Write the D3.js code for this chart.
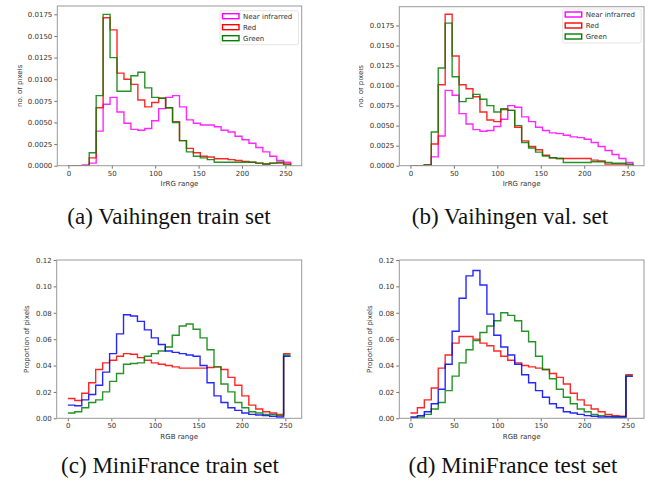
<!DOCTYPE html>
<html>
<head>
<meta charset="utf-8">
<script src="https://cdn.jsdelivr.net/npm/d3@7"></script>
<style>
  body { margin: 0; background: #fff; }
  svg { display: block; }
  .tick text { font-family: 'DejaVu Sans', sans-serif; font-size: 7px; fill: #333; }
  .lbl { font-family: 'DejaVu Sans', sans-serif; font-size: 7px; fill: #333; }
  .cap { font-family: 'Liberation Serif', 'Times New Roman', serif; font-size: 23px; fill: #111; }
</style>
</head>
<body>
<svg id="fig" width="652" height="483"></svg>
<script>
// bin edges, width 8, 0..256
var edges = d3.range(0, 257, 8);

// (a) Vaihingen train set
var nirA = [0, 0, 0.0001, 0.0003, 0.0040, 0.0071, 0.0079, 0.0062, 0.0049, 0.0042, 0.0041, 0.0043, 0.0052, 0.0066, 0.0079, 0.0081,
    0.0068, 0.0053, 0.0049, 0.0047, 0.0047, 0.0045, 0.0041, 0.0039, 0.0034, 0.0030, 0.0026, 0.0021, 0.0016, 0.0011, 0.0006, 0.0004];
var redA = [0, 0, 0, 0.0009, 0.0067, 0.0171, 0.0157, 0.0107, 0.0100, 0.0094, 0.0076, 0.0068, 0.0073, 0.0078, 0.0067, 0.0051,
    0.0029, 0.0020, 0.0015, 0.0011, 0.0010, 0.0008, 0.0008, 0.0007, 0.0006, 0.0005, 0.0004, 0.0003, 0.0002, 0.0003, 0.0003, 0.0002];
var greenA = [0, 0, 0, 0.0015, 0.0081, 0.0175, 0.0125, 0.0086, 0.0086, 0.0104, 0.0108, 0.0090, 0.0079, 0.0078, 0.0067, 0.0050,
    0.0029, 0.0016, 0.0011, 0.0009, 0.0007, 0.0004, 0.0004, 0.0004, 0.0004, 0.0004, 0.0004, 0.0003, 0.0002, 0.0003, 0.0004, 0.0001];

// (b) Vaihingen val. set
var nirB = [0, 0, 0.0001, 0.0011, 0.0037, 0.0094, 0.0088, 0.0065, 0.0052, 0.0045, 0.0043, 0.0044, 0.0049, 0.0058, 0.0075, 0.0073,
    0.0061, 0.0055, 0.0048, 0.0044, 0.0041, 0.0040, 0.0038, 0.0036, 0.0035, 0.0033, 0.0029, 0.0024, 0.0019, 0.0014, 0.0009, 0.0004];
var redB = [0, 0, 0.0001, 0.0027, 0.0101, 0.0189, 0.0137, 0.0101, 0.0096, 0.0086, 0.0067, 0.0057, 0.0055, 0.0070, 0.0069, 0.0048,
    0.0031, 0.0024, 0.0020, 0.0013, 0.0010, 0.0009, 0.0009, 0.0009, 0.0009, 0.0009, 0.0007, 0.0006, 0.0002, 0.0002, 0.0002, 0.0001];
var greenB = [0, 0, 0.0001, 0.0042, 0.0122, 0.0178, 0.0111, 0.0080, 0.0084, 0.0089, 0.0083, 0.0075, 0.0067, 0.0071, 0.0069, 0.0050,
    0.0029, 0.0022, 0.0017, 0.0012, 0.0010, 0.0009, 0.0004, 0.0004, 0.0004, 0.0004, 0.0005, 0.0005, 0.0004, 0.0003, 0.0003, 0.0002];

// (c) MiniFrance train set
var redC = [0.015, 0.0135, 0.019, 0.027, 0.037, 0.042, 0.044, 0.047, 0.049, 0.0485, 0.046, 0.044, 0.042, 0.041, 0.040, 0.039,
    0.038, 0.038, 0.038, 0.038, 0.0385, 0.039, 0.037, 0.031, 0.025, 0.017, 0.010, 0.007, 0.005, 0.004, 0.003, 0.049];
var greenC = [0.004, 0.005, 0.008, 0.012, 0.014, 0.020, 0.028, 0.034, 0.041, 0.0415, 0.042, 0.047, 0.049, 0.051, 0.054, 0.063,
    0.070, 0.0715, 0.0675, 0.061, 0.052, 0.039, 0.026, 0.020, 0.012, 0.008, 0.005, 0.004, 0.003, 0.003, 0.002, 0.048];
var blueC = [0.010, 0.0095, 0.014, 0.018, 0.025, 0.035, 0.049, 0.064, 0.0785, 0.0775, 0.0735, 0.067, 0.061, 0.056, 0.051, 0.050,
    0.049, 0.048, 0.047, 0.040, 0.027, 0.017, 0.012, 0.008, 0.006, 0.004, 0.003, 0.0025, 0.002, 0.0015, 0.001, 0.047];

// (d) MiniFrance test set
var redD = [0.004, 0.008, 0.014, 0.023, 0.038, 0.048, 0.057, 0.062, 0.062, 0.060, 0.057, 0.055, 0.051, 0.047, 0.044, 0.042,
    0.040, 0.039, 0.038, 0.037, 0.034, 0.031, 0.026, 0.019, 0.014, 0.010, 0.007, 0.005, 0.003, 0.002, 0.0015, 0.033];
var greenD = [0.0005, 0.001, 0.003, 0.007, 0.012, 0.021, 0.032, 0.042, 0.052, 0.059, 0.065, 0.070, 0.074, 0.080, 0.078, 0.074,
    0.066, 0.058, 0.047, 0.037, 0.030, 0.022, 0.016, 0.011, 0.007, 0.005, 0.003, 0.002, 0.0015, 0.001, 0.001, 0.032];
var blueD = [0.001, 0.002, 0.005, 0.011, 0.022, 0.041, 0.066, 0.091, 0.108, 0.112, 0.101, 0.079, 0.063, 0.054, 0.048, 0.041,
    0.033, 0.027, 0.021, 0.016, 0.011, 0.008, 0.005, 0.004, 0.003, 0.002, 0.0015, 0.001, 0.001, 0.001, 0.001, 0.032];

var xTicks = [0, 50, 100, 150, 200, 250];
var yTicksV = [0, 0.0025, 0.005, 0.0075, 0.01, 0.0125, 0.015, 0.0175];
var yTicksM = [0, 0.02, 0.04, 0.06, 0.08, 0.10, 0.12];
var legendNames = ['Near infrarred', 'Red', 'Green'];

var panels = [
    {box: [57.3, 301.7, 6, 165.7], ymax: 0.0175 * 1.055, ticks: yTicksV, fmt: '.4f', ylab: 'no. of pixels', ylabX: 19.5, clipX: 17.5,
     xlab: 'IrRG range', hist: true, leg: [220, 10.7],
     series: [{v: nirA, c: '#ff00ff'}, {v: redA, c: '#ff0000'}, {v: greenA, c: '#008000'}],
     cap: '(a) Vaihingen train set', capX: 169, capY: 224},
    {box: [399.3, 644, 6.7, 165.7], ymax: 0.0189 * 1.05, ticks: yTicksV, fmt: '.4f', ylab: 'no. of pixels', ylabX: 361, clipX: 359,
     xlab: 'IrRG range', hist: true, leg: [562.7, 9],
     series: [{v: nirB, c: '#ff00ff'}, {v: redB, c: '#ff0000'}, {v: greenB, c: '#008000'}],
     cap: '(b) Vaihingen val. set', capX: 510, capY: 224},
    {box: [56.7, 301.7, 260, 418.3], ymax: 0.12, ticks: yTicksM, fmt: '.2f', ylab: 'Proportion of pixels', ylabX: 27, clipX: 0,
     xlab: 'RGB range', hist: false,
     series: [{v: redC, c: '#ff0000'}, {v: greenC, c: '#008000'}, {v: blueC, c: '#0000ff'}],
     cap: '(c) MiniFrance train set', capX: 170, capY: 473},
    {box: [399.3, 644, 260, 418.3], ymax: 0.12, ticks: yTicksM, fmt: '.2f', ylab: 'Proportion of pixels', ylabX: 370, clipX: 326,
     xlab: 'RGB range', hist: false,
     series: [{v: redD, c: '#ff0000'}, {v: greenD, c: '#008000'}, {v: blueD, c: '#0000ff'}],
     cap: '(d) MiniFrance test set', capX: 513, capY: 473}
];

var svg = d3.select('#fig');

panels.forEach(function(p, pi) {
    var x = d3.scaleLinear().domain([-12.8, 268.8]).range([p.box[0], p.box[1]]);
    var y = d3.scaleLinear().domain([0, p.ymax]).range([p.box[3], p.box[2]]);

    var g = svg.append('g');

    // step lines
    var line = d3.line()
        .x(function(d) { return x(d[0]); })
        .y(function(d) { return y(d[1]); })
        .curve(d3.curveStepAfter);

    var clipId = 'plot' + pi;
    svg.append('clipPath').attr('id', clipId)
        .append('rect')
        .attr('x', p.box[0]).attr('y', p.box[2])
        .attr('width', p.box[1] - p.box[0]).attr('height', p.box[3] - p.box[2]);

    p.series.forEach(function(s) {
        var pts = s.v.map(function(v, i) { return [edges[i], v]; });
        pts.push([256, s.v[s.v.length - 1]]);
        if (p.hist) {
            pts.unshift([0, 0]);
            pts.push([256, 0]);
        }
        g.append('path')
            .attr('d', line(pts))
            .attr('clip-path', 'url(#' + clipId + ')')
            .style('fill', 'none')
            .style('stroke', s.c)
            .style('stroke-opacity', 0.85)
            .style('stroke-width', 1.4)
            .style('stroke-linejoin', 'miter');
    });

    // axes
    var xAxis = d3.axisBottom(x).tickValues(xTicks).tickSize(3).tickPadding(2);
    g.append('g')
        .attr('transform', 'translate(0,' + p.box[3] + ')')
        .call(xAxis)
        .call(function(a) { a.select('.domain').remove(); a.selectAll('line').style('stroke', '#333').style('stroke-width', 0.7); });

    var yAxis = d3.axisLeft(y).tickValues(p.ticks).tickFormat(d3.format(p.fmt)).tickSize(3).tickPadding(2);
    g.append('g')
        .attr('transform', 'translate(' + p.box[0] + ',0)')
        .call(yAxis)
        .call(function(a) { a.select('.domain').remove(); a.selectAll('line').style('stroke', '#333').style('stroke-width', 0.7); });

    // frame
    g.append('rect')
        .attr('x', p.box[0]).attr('y', p.box[2])
        .attr('width', p.box[1] - p.box[0]).attr('height', p.box[3] - p.box[2])
        .style('fill', 'none')
        .style('stroke', '#999')
        .style('stroke-width', 1);

    // axis labels
    g.append('text')
        .attr('class', 'lbl')
        .attr('x', (p.box[0] + p.box[1]) / 2)
        .attr('y', p.box[3] + 20.5)
        .attr('text-anchor', 'middle')
        .text(p.xlab);

    // y label, cropped at the left like the source image
    var labClip = 'lab' + pi;
    svg.append('clipPath').attr('id', labClip)
        .append('rect')
        .attr('x', p.clipX).attr('y', p.box[2] - 10)
        .attr('width', 60).attr('height', p.box[3] - p.box[2] + 20);

    g.append('g')
        .attr('clip-path', 'url(#' + labClip + ')')
        .append('text')
        .attr('class', 'lbl')
        .attr('transform', 'translate(' + p.ylabX + ',' + (p.box[2] + p.box[3]) / 2 + ') rotate(-90)')
        .attr('text-anchor', 'middle')
        .attr('dy', '0.35em')
        .text(p.ylab);

    // legend
    if (p.leg) {
        var lg = g.append('g').attr('transform', 'translate(' + p.leg[0] + ',' + p.leg[1] + ')');
        lg.append('rect')
            .attr('width', 78.5).attr('height', 34)
            .attr('rx', 2)
            .style('fill', '#fff')
            .style('fill-opacity', 0.8)
            .style('stroke', '#ddd')
            .style('stroke-width', 0.8);
        p.series.forEach(function(s, i) {
            lg.append('rect')
                .attr('x', 2.5).attr('y', 3 + i * 11)
                .attr('width', 16.5).attr('height', 5)
                .style('fill', 'none')
                .style('stroke', s.c)
                .style('stroke-width', 1.4);
            lg.append('text')
                .attr('class', 'lbl')
                .attr('x', 23)
                .attr('y', 5.5 + i * 11)
                .attr('dy', '0.35em')
                .text(legendNames[i]);
        });
    }

    // caption
    svg.append('text')
        .attr('class', 'cap')
        .attr('x', p.capX)
        .attr('y', p.capY)
        .attr('text-anchor', 'middle')
        .text(p.cap);
});
</script>
</body>
</html>
